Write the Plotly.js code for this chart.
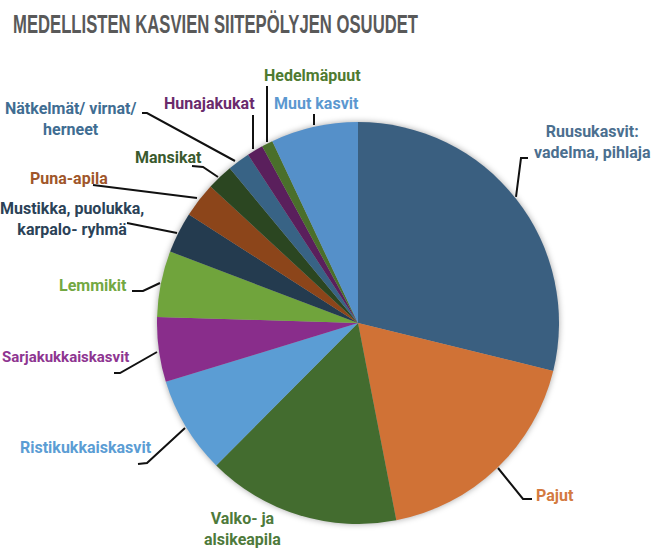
<!DOCTYPE html>
<html>
<head>
<meta charset="utf-8">
<script src="https://cdn.plot.ly/plotly-3.0.1.min.js"></script>
<style>
html,body{margin:0;padding:0;background:#fff;}
#chart{width:655px;height:549px;}
</style>
</head>
<body>
<div id="chart"></div>
<script>
// ---- data ----
const categories = [
  "Ruusukasvit: vadelma, pihlaja",
  "Pajut",
  "Valko- ja alsikeapila",
  "Ristikukkaiskasvit",
  "Sarjakukkaiskasvit",
  "Lemmikit",
  "Mustikka, puolukka, karpalo- ryhmä",
  "Puna-apila",
  "Mansikat",
  "Nätkelmät/ virnat/ herneet",
  "Hunajakukat",
  "Hedelmäpuut",
  "Muut kasvit"
];
const shares = [28.8, 18.1, 15.5, 7.8, 5.2, 5.3, 3.3, 2.8, 2.1, 1.8, 1.3, 0.9, 7.0];
const labelTexts = [
  "Ruusukasvit:<br>vadelma, pihlaja",
  "Pajut",
  "Valko- ja<br>alsikeapila",
  "Ristikukkaiskasvit",
  "Sarjakukkaiskasvit",
  "Lemmikit",
  "Mustikka, puolukka,<br>karpalo- ryhmä",
  "Puna-apila",
  "Mansikat",
  "Nätkelmät/ virnat/<br>herneet",
  "Hunajakukat",
  "Hedelmäpuut",
  "Muut kasvit"
];
const chartTitle = "MEDELLISTEN KASVIEN SIITEPÖLYJEN OSUUDET";

// ---- styles ----
const sliceColors = ["#3a5f80","#d07236","#436c2f","#5b9dd4","#892d8b","#70a43c",
                     "#243b4f","#8c451a","#2b4621","#386385","#5a1f5c","#4a6f2b","#5590c9"];
const textColors  = ["#4b6f8f","#d47a40","#4e7a3b","#5b9dd4","#8e3591","#73a842",
                     "#2b4257","#a0562a","#3a5a2e","#3f6d92","#6a2a6c","#4f7a31","#5b98d0"];

const W = 655, H = 549;
const cx = 358, cy = 323, R = 201;
const px = x => x / W;
const py = y => 1 - y / H;

// label anchor positions (pixels), anchors and font sizes
const labelPos = [
  {x:592, y:142, xa:"center", s:16},
  {x:534, y:495, xa:"left",   s:16},
  {x:242, y:529, xa:"center", s:16},
  {x:154, y:447, xa:"right",  s:16},
  {x:131, y:357, xa:"right",  s:15},
  {x:129, y:285, xa:"right",  s:16},
  {x:72,  y:219, xa:"center", s:16},
  {x:69,  y:178, xa:"center", s:16},
  {x:168, y:157, xa:"center", s:16},
  {x:70,  y:119, xa:"center", s:16},
  {x:209, y:103, xa:"center", s:16},
  {x:312, y:76,  xa:"center", s:16},
  {x:316, y:103, xa:"center", s:16}
];
// leader lines (pixels)
const leaders = [
  [[516,197],[521,158],[528,158]],
  [[498,468],[523,499],[532,499]],
  null,
  [[185,428],[147,463],[138,464]],
  [[157,352],[120,373],[114,373]],
  [[160,283],[143,291],[132,291]],
  [[177,233],[127,223]],
  [[197,198],[93,185]],
  [[218,177],[203,167],[192,166]],
  [[235,161],[147,113],[142,113]],
  [[253,149],[253,115]],
  [[267,142],[267,86]],
  [[314,125],[314,114]]
];

const annotations = labelTexts.map((t,i)=>({
  xref:"paper", yref:"paper",
  x: px(labelPos[i].x), y: py(labelPos[i].y),
  xanchor: labelPos[i].xa, yanchor:"middle",
  text: t, showarrow:false, align:"center",
  font:{family:"Roboto, sans-serif", size:labelPos[i].s, weight:700, color:textColors[i]}
}));

const shapes = leaders.filter(l=>l).map(l=>({
  type:"path", xref:"paper", yref:"paper",
  path: l.map((p,j)=>(j?"L":"M")+px(p[0]).toFixed(5)+","+py(p[1]).toFixed(5)).join(" "),
  line:{color:"#111111", width:2}
}));

const trace = {
  type:"pie",
  labels: categories,
  values: shares,
  sort:false,
  direction:"clockwise",
  rotation:0,
  textinfo:"none",
  hoverinfo:"label+percent",
  marker:{colors:sliceColors, line:{width:0}},
  domain:{x:[px(cx-R), px(cx+R)], y:[py(cy+R), py(cy-R)]},
  showlegend:false
};

const layout = {
  width:W, height:H,
  margin:{l:0,r:0,t:0,b:0},
  paper_bgcolor:"#ffffff",
  showlegend:false,
  title:{text:chartTitle, x:px(13), xanchor:"left", y:py(24), yanchor:"middle",
         font:{family:"Liberation Sans Narrow, sans-serif", size:26, weight:700, color:"#595959"}},
  annotations: annotations,
  shapes: shapes
};

Plotly.newPlot("chart",[trace],layout,{displayModeBar:false,staticPlot:true}).then(gd=>{
  const t = gd.querySelector(".gtitle");
  if (t) { t.setAttribute("textLength","405"); t.setAttribute("lengthAdjust","spacingAndGlyphs"); }
  const pl = gd.querySelector(".pielayer");
  if (pl) pl.style.filter = "drop-shadow(0px 0px 3px rgba(0,0,0,0.35))";
});
</script>
</body>
</html>
